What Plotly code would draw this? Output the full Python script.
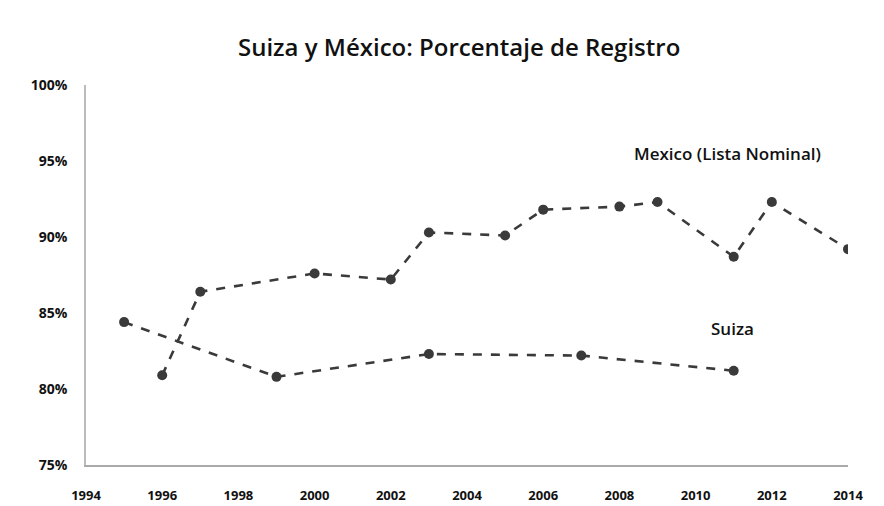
import plotly.graph_objects as go

mexico_years = [1996, 1997, 2000, 2002, 2003, 2005, 2006, 2008, 2009, 2011, 2012, 2014]
mexico_pct = [80.9, 86.4, 87.6, 87.2, 90.3, 90.1, 91.8, 92.0, 92.3, 88.7, 92.3, 89.2]

suiza_years = [1995, 1999, 2003, 2007, 2011]
suiza_pct = [84.4, 80.8, 82.3, 82.2, 81.2]

x_ticks = [1994, 1996, 1998, 2000, 2002, 2004, 2006, 2008, 2010, 2012, 2014]
y_ticks = [75, 80, 85, 90, 95, 100]
y_ticktext = ["75%", "80%", "85%", "90%", "95%", "100%"]

line_color = "#3a3a3a"

fig = go.Figure()
fig.add_trace(go.Scatter(
    x=mexico_years, y=mexico_pct, mode="lines+markers", name="Mexico (Lista Nominal)",
    line=dict(color=line_color, width=2.6, dash="dash"),
    marker=dict(color=line_color, size=10),
))
fig.add_trace(go.Scatter(
    x=suiza_years, y=suiza_pct, mode="lines+markers", name="Suiza",
    line=dict(color=line_color, width=2.6, dash="dash"),
    marker=dict(color=line_color, size=10),
))

fig.add_annotation(x=2010.84, y=95.5, text="Mexico (Lista Nominal)", showarrow=False,
                   font=dict(family="Open Sans", size=17, color="#111", weight=600))
fig.add_annotation(x=2010.96, y=83.95, text="Suiza", showarrow=False,
                   font=dict(family="Open Sans", size=17, color="#111", weight=600))

fig.update_layout(
    width=876, height=498,
    margin=dict(l=78, r=36, t=77, b=41),
    paper_bgcolor="white", plot_bgcolor="white",
    showlegend=False,
    title=dict(text="Suiza y México: Porcentaje de Registro", x=0.515, xanchor="center",
               y=0.92, yanchor="middle",
               font=dict(family="Open Sans", size=24, color="#111", weight=600)),
    xaxis=dict(range=[1994, 2014], tickvals=x_ticks, showgrid=False, zeroline=False,
               showline=True, linecolor="#aaaaaa", linewidth=1.5, ticks="",
               ticklabelstandoff=18, automargin=False,
               tickfont=dict(family="Open Sans", size=13, color="#111", weight="bold")),
    yaxis=dict(range=[75, 100], tickvals=y_ticks, ticktext=y_ticktext, showgrid=False,
               zeroline=False, showline=True, linecolor="#bbbbbb", linewidth=1.5, ticks="",
               ticklabelstandoff=14, automargin=False,
               tickfont=dict(family="Open Sans", size=14, color="#111", weight="bold")),
)

fig.write_html("out.html")
